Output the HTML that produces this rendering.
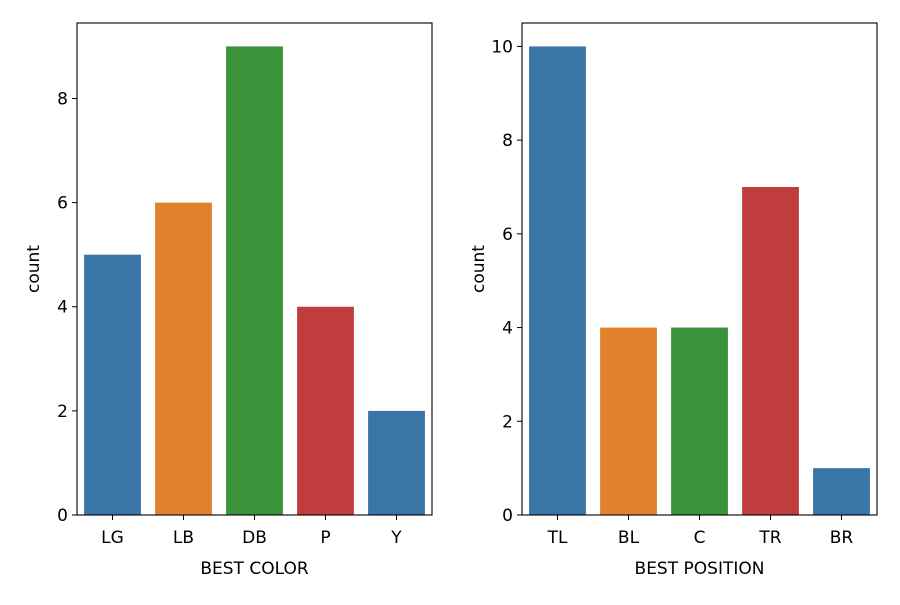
<!DOCTYPE html>
<html><head><meta charset="utf-8"><style>
body{margin:0;background:#fff;}
svg text{font-family:"DejaVu Sans","Liberation Sans",sans-serif;fill:#000;}
</style></head><body>
<svg id="c" width="900" height="600" xmlns="http://www.w3.org/2000/svg"></svg>
<script>
const leftCats = ["LG","LB","DB","P","Y"];
const leftVals = [5,6,9,4,2];
const leftTicks = [0,2,4,6,8];
const rightCats = ["TL","BL","C","TR","BR"];
const rightVals = [10,4,4,7,1];
const rightTicks = [0,2,4,6,8,10];
const colors = ["#3a75a8","#e1812c","#3a923a","#c03d3e","#3a75a8"];
const svg = document.getElementById('c');
const NS = "http://www.w3.org/2000/svg";
function mk(tag, attrs, parent){const e=document.createElementNS(NS,tag);for(const k in attrs)e.setAttribute(k,attrs[k]);(parent||svg).appendChild(e);return e;}
function panel(x0,x1,y0,y1,ymax,cats,vals,ticks,xlabel,prefix){
  const g = mk('g',{});
  
  
  const ys = v => y1 - (v/ymax)*(y1-y0);
  const slot = (x1-x0)/cats.length;
  const xs = i => x0 + slot*(i+0.5);
  vals.forEach((v,i)=>{
    const r = mk('rect',{x:xs(i)-slot*0.4,y:ys(v),width:slot*0.8,height:y1-ys(v),fill:colors[i]},g);
    
    
    mk('line',{x1:xs(i),x2:xs(i),y1:y1,y2:y1+5,stroke:'#000','stroke-width':1},g);
    const t = mk('text',{x:xs(i),y:y1+28,'text-anchor':'middle','font-size':17},g);
    t.textContent = cats[i];
    
    
  });
  ticks.forEach(v=>{
    mk('line',{x1:x0-5,x2:x0,y1:ys(v),y2:ys(v),stroke:'#000','stroke-width':1},g);
    const t = mk('text',{x:x0-9,y:ys(v)+6,'text-anchor':'end','font-size':17},g);
    t.textContent = v;
    
    
  });
  const f = mk('rect',{x:x0,y:y0,width:x1-x0,height:y1-y0,fill:'none',stroke:'#000','stroke-width':1.1},g);
  
  
  const xl = mk('text',{x:(x0+x1)/2,y:574,'text-anchor':'middle','font-size':17},g);
  xl.textContent = xlabel;
  
  
  const yl = mk('text',{x:0,y:0,'text-anchor':'middle','font-size':17,transform:`translate(${x0-38},${(y0+y1)/2}) rotate(-90)`},g);
  yl.textContent = 'count';
  
  
}
panel(77,432,23,515,9.45,leftCats,leftVals,leftTicks,'BEST COLOR','left');
panel(522,877,23,515,10.5,rightCats,rightVals,rightTicks,'BEST POSITION','right');
</script>
</body></html>
